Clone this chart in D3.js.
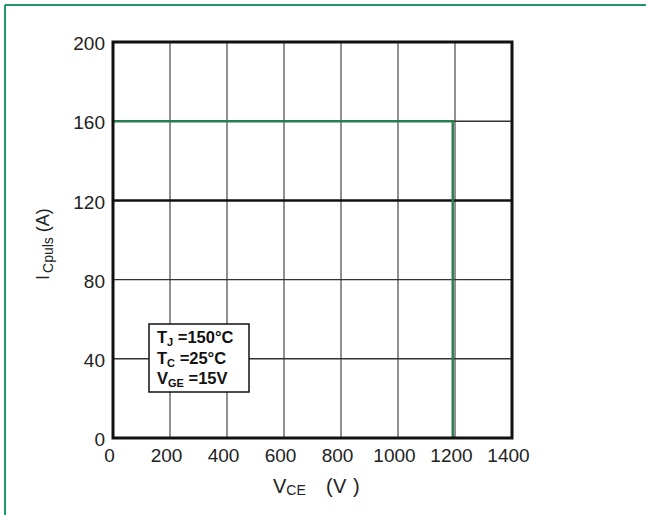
<!DOCTYPE html>
<html>
<head>
<meta charset="utf-8">
<script src="https://cdn.jsdelivr.net/npm/d3@7"></script>
<style>
  html, body { margin: 0; padding: 0; background: #fff; }
  svg { display: block; font-family: "Liberation Sans", Arial, "Noto Sans CJK SC", sans-serif; }
</style>
</head>
<body>
<svg id="chart" width="646" height="515"></svg>
<script>
// Safe operating area: pulsed collector current limit vs collector-emitter voltage
const xTicks = [0, 200, 400, 600, 800, 1000, 1200, 1400];
const yTicks = [0, 40, 80, 120, 160, 200];
const limitVce = [0, 1192, 1192];
const limitIc = [160, 160, 0];
const conditions = [
  { main: "T", sub: "J", rest: " =150°C" },
  { main: "T", sub: "C", rest: " =25°C" },
  { main: "V", sub: "GE", rest: " =15V" }
];

const svg = d3.select("#chart");
const W = 646, H = 515;
const margin = { left: 113, right: 134, top: 42, bottom: 77 };

const x = d3.scaleLinear().domain([0, 1400]).range([margin.left, W - margin.right]);
const y = d3.scaleLinear().domain([0, 200]).range([H - margin.bottom, margin.top]);

// outer frame (left and top edges)
svg.append("line").attr("x1", 5).attr("y1", 5).attr("x2", 5).attr("y2", H)
  .attr("stroke", "#1e9a68").attr("stroke-width", 2);
svg.append("line").attr("x1", 5).attr("y1", 5).attr("x2", W).attr("y2", 5)
  .attr("stroke", "#1e9a68").attr("stroke-width", 2);

// grid
const grid = svg.append("g");
grid.selectAll("line.v").data(xTicks.slice(1, -1)).join("line")
  .attr("class", "v")
  .attr("x1", d => x(d)).attr("x2", d => x(d))
  .attr("y1", y(200)).attr("y2", y(0))
  .attr("stroke", "#555").attr("stroke-width", 1.3);
grid.selectAll("line.h").data(yTicks.slice(1, -1)).join("line")
  .attr("class", "h")
  .attr("x1", x(0)).attr("x2", x(1400))
  .attr("y1", d => y(d)).attr("y2", d => y(d))
  .attr("stroke", d => d === 120 ? "#111" : "#333")
  .attr("stroke-width", d => d === 120 ? 2.5 : 1.4);

// limit curve
const line = d3.line().x((d, i) => x(limitVce[i])).y(d => y(d));
svg.append("path")
  .datum(limitIc)
  .attr("d", line)
  .attr("fill", "none")
  .attr("stroke", "#2a7d4f")
  .attr("stroke-width", 2.4);

// plot border
svg.append("rect")
  .attr("x", x(0)).attr("y", y(200))
  .attr("width", x(1400) - x(0)).attr("height", y(0) - y(200))
  .attr("fill", "none").attr("stroke", "#111").attr("stroke-width", 3);

// axes (labels only)
const fmt = d3.format("d");
const xAxis = d3.axisBottom(x).tickValues(xTicks).tickFormat(fmt).tickSize(0).tickPadding(0);
const gx = svg.append("g").attr("transform", `translate(0,${y(0)})`).call(xAxis);
gx.select(".domain").remove();
gx.selectAll("text")
  .attr("dy", null).attr("y", 24).attr("dx", -4)
  .attr("font-size", 19).attr("fill", "#222")
  .attr("font-family", "'Liberation Sans', Arial, sans-serif");

const yAxis = d3.axisLeft(y).tickValues(yTicks).tickFormat(fmt).tickSize(0).tickPadding(0);
const gy = svg.append("g").attr("transform", `translate(${x(0) - 8},0)`).call(yAxis);
gy.select(".domain").remove();
gy.selectAll("text")
  .attr("dy", "0.4em").attr("x", 0)
  .attr("font-size", 19).attr("fill", "#222")
  .attr("font-family", "'Liberation Sans', Arial, sans-serif");

// axis titles
const xt = svg.append("text")
  .attr("x", 273).attr("y", 493)
  .attr("text-anchor", "start")
  .attr("font-size", 20).attr("fill", "#222");
xt.append("tspan").text("V");
xt.append("tspan").attr("font-size", 14).attr("dy", 2).text("CE");
xt.append("tspan").attr("dy", -2).attr("x", 326).attr("font-weight", 300).text("(");
xt.append("tspan").attr("x", 333).text("V");
xt.append("tspan").attr("x", 353).attr("font-weight", 300).text(")");

const yt = svg.append("text")
  .attr("transform", "translate(49,280) rotate(-90)")
  .attr("text-anchor", "start")
  .attr("font-size", 18).attr("fill", "#222");
yt.append("tspan").text("I");
yt.append("tspan").attr("font-size", 14).attr("dy", 4).attr("dx", 2).text("Cpuls");
yt.append("tspan").attr("dy", -4).text(" (A)");

// conditions box
const box = svg.append("g").attr("transform", "translate(149,324)");
box.append("rect").attr("width", 100).attr("height", 68)
  .attr("fill", "#fff").attr("stroke", "#111").attr("stroke-width", 1.5);
box.selectAll("text").data(conditions).join("text")
  .attr("x", 8).attr("y", (d, i) => 19 + i * 20.5)
  .attr("font-size", 16.5).attr("font-weight", "bold").attr("fill", "#111")
  .each(function (d) {
    const t = d3.select(this);
    t.append("tspan").text(d.main);
    t.append("tspan").attr("font-size", 11).attr("dy", 3).text(d.sub);
    t.append("tspan").attr("dy", -3).text(d.rest);
  });
</script>
</body>
</html>
